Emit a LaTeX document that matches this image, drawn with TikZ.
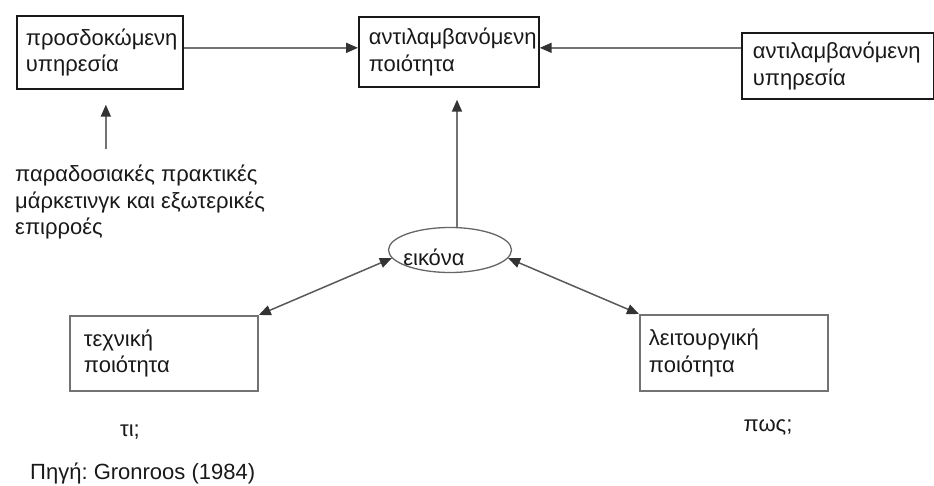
\documentclass[tikz,border=0pt]{standalone}
\usepackage{fontspec}
\setmainfont{Liberation Sans}
\usetikzlibrary{arrows.meta,shapes.geometric,calc}
\frenchspacing
\newcommand\lbl{\fontsize{22}{26.5}\selectfont}
\tikzset{
  every node/.style={font=\lbl, text=black!90},
  boxk/.style={draw=black!90, line width=1.7pt, align=left, anchor=north west, inner ysep=0pt},
  boxg/.style={draw=black!55, line width=1.8pt, align=left, anchor=north west, inner ysep=0pt},
  plain/.style={align=left, inner sep=0pt},
  tip/.style={Triangle[length=12pt,width=10pt,color=black!80]},
  arr/.style={draw=black!55, line width=1.8pt, -{Triangle[length=12pt,width=10pt,color=black!80]}},
  darr/.style={draw=black!65, line width=1.5pt,
    {Triangle[length=12pt,width=10pt,color=black!80]}-{Triangle[length=12pt,width=10pt,color=black!80]}}
}
\begin{document}
\begin{tikzpicture}[x=1pt,y=-1pt]
  \useasboundingbox (0,0) rectangle (934,486);

  % top row of boxes
  \node[boxk, inner xsep=9pt, text width=148pt, minimum height=73pt] (b1) at (16,15)
    {προσδοκώμενη\\υπηρεσία};
  \node[boxk, inner xsep=10pt, text width=160pt, minimum height=70pt] (b2) at (358,16)
    {αντιλαμβανόμενη\\ποιότητα};
  \node[boxk, inner xsep=11pt, text width=170pt, minimum height=66pt] (b3) at (741,32)
    {αντιλαμβανόμενη\\υπηρεσία};

  % external influences
  \node[plain, anchor=north west] (t1) at (15,165)
    {παραδοσιακές πρακτικές\\μάρκετινγκ και εξωτερικές\\επιρροές};

  % image ellipse
  \node[ellipse, draw=black!60, line width=1.3pt, minimum width=123pt, minimum height=45pt, inner sep=0pt,
        label={[xshift=-16pt, yshift=-7pt]center:εικόνα}] (e) at (450,250) {};

  % bottom row of boxes
  \node[boxg, inner xsep=14pt, text width=160pt, minimum height=75pt] (b4) at (69,315)
    {τεχνική\\ποιότητα};
  \node[boxg, inner xsep=9pt, text width=170pt, minimum height=76pt] (b5) at (639,314)
    {λειτουργική\\ποιότητα};

  \node[plain] (q1) at (130,432) {τι;};
  \node[plain] (q2) at (768,427) {πως;};
  \node[plain, anchor=west] (src) at (30,473) {Πηγή: Gronroos (1984)};

  % connectors
  \coordinate (t1top) at ($(b1.south)+(6,59)$);
  \draw[arr] ([yshift=4.5pt]b1.east) -- ([yshift=4.5pt]b1.east -| b2.west);
  \draw[arr] ([yshift=18pt]b3.west) -- ([yshift=18pt]b3.west -| b2.east);
  \draw[arr] (t1top) -- ([xshift=6pt,yshift=-15pt]b1.south);
  \draw[arr] ([xshift=7pt]e.north) -- ([xshift=7pt,yshift=-12pt]e.north |- b2.south);
  \draw[darr] (b4.north east) -- (e.188);
  \draw[darr] (b5.north west) -- (e.-8);
\end{tikzpicture}
\end{document}
